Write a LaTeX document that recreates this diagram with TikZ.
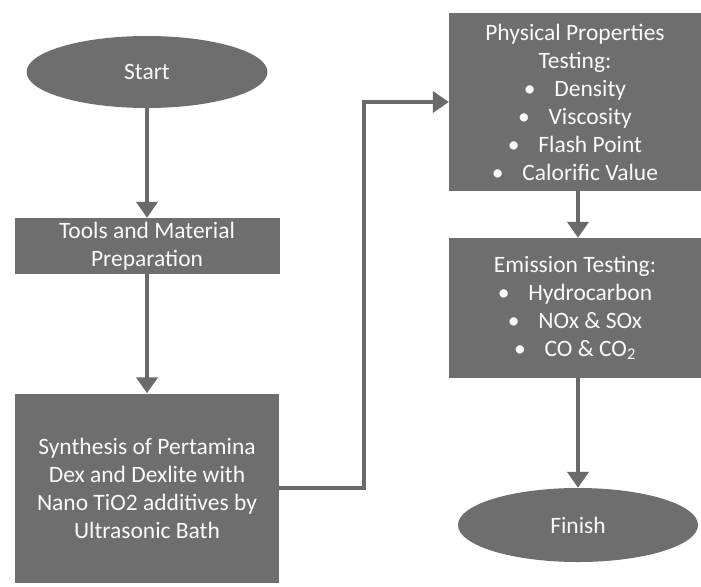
\documentclass[tikz,border=0pt]{standalone}
\usepackage{fontspec}
\setmainfont{Carlito}
\usetikzlibrary{arrows.meta,positioning,shapes.geometric}
\definecolor{boxGray}{HTML}{6E6E6E}
\definecolor{lineGray}{HTML}{6A6A6A}
\definecolor{textWhite}{HTML}{FAFAFA}

\begin{document}
\begin{tikzpicture}[
      x=1pt, y=-1pt,
      flowstep/.style={rectangle, draw=none, fill=boxGray, inner sep=0pt, align=center, text=textWhite, font=\fontsize{23.5}{28}\selectfont},
      terminal/.style={ellipse, draw=none, fill=boxGray, inner sep=0pt, minimum width=241pt, minimum height=72pt, text=textWhite, font=\fontsize{23.5}{28}\selectfont},
      arrow/.style={-{Triangle[length=16pt,width=21pt]}, line width=4pt, draw=lineGray}
    ]
      \useasboundingbox (0,0) rectangle (701,586);
      \node[terminal] (start) at (147,72) {Start};
      \node[flowstep, minimum width=265pt, minimum height=56pt] (tools) at (147,246) {Tools and Material\\Preparation};
      \node[flowstep, minimum width=264pt, minimum height=189pt] (synth) at (147,488) {Synthesis of Pertamina\\Dex and Dexlite with\\Nano TiO2 additives by\\Ultrasonic Bath};
      \node[flowstep, minimum width=252pt, minimum height=178pt] (phys) at (575,102) {Physical Properties\\Testing:\\\textbullet\hspace{0.8em}Density\\\textbullet\hspace{0.8em}Viscosity\\\textbullet\hspace{0.8em}Flash Point\\\textbullet\hspace{0.8em}Calorific Value};
      \node[flowstep, minimum width=252pt, minimum height=140pt] (emis) at (575,308) {Emission Testing:\\\textbullet\hspace{0.8em}Hydrocarbon\\\textbullet\hspace{0.8em}NOx \& SOx\\\textbullet\hspace{0.8em}CO \& CO\textsubscript{2}};
      \node[terminal, minimum width=240pt, minimum height=74pt] (finish) at (578,525) {Finish};
      \draw[arrow] (start) -- (tools);
      \draw[arrow] (tools) -- (synth);
      \draw[arrow] (synth.east) -- ++(85,0) |- (phys.west);
      \draw[arrow] (phys.south -| finish) -- (emis.north -| finish);
      \draw[arrow] (emis.south -| finish) -- (finish);
    \end{tikzpicture}
\end{document}
